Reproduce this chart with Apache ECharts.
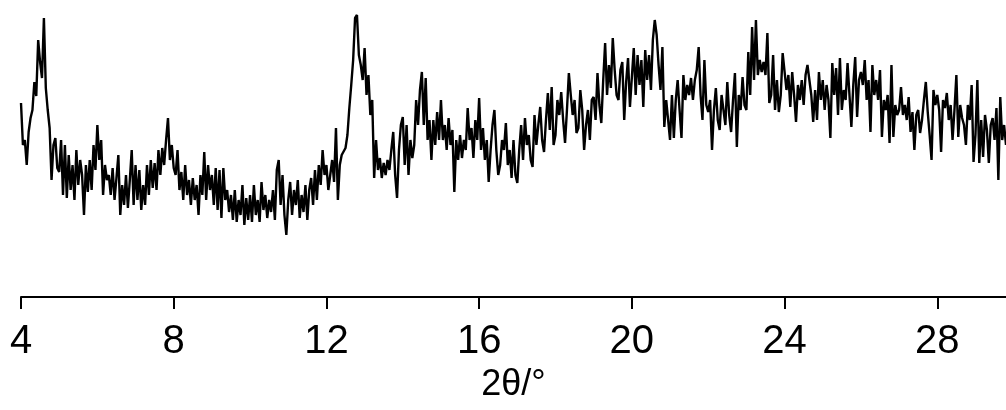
<!DOCTYPE html>
<html>
<head>
<meta charset="utf-8">
<script src="https://cdn.jsdelivr.net/npm/echarts@6/dist/echarts.min.js"></script>
<style>
  html, body { margin: 0; padding: 0; background: #fff; }
  #chart { width: 1006px; height: 410px; }
</style>
</head>
<body>
<div id="chart"></div>
<script>
// scan grid (2θ, degrees)
const scanStart = 4
const scanStep = 0.05
const xTickInterval = 4
const xMin = 4
const xMax = 29.8

// intensity (a.u.), one row per degree of 2θ
const intensity = [
  197, 155, 160, 135, 168, 182, 190, 218, 204, 260, 238, 222, 282, 212, 190, 172, 120, 155, 162, 132,
  128, 160, 105, 155, 102, 145, 110, 135, 100, 150, 115, 140, 125, 85, 135, 108, 140, 110, 155, 130,
  175, 140, 160, 105, 135, 120, 125, 105, 132, 100, 122, 145, 85, 115, 95, 125, 92, 120, 150, 95,
  135, 100, 130, 90, 115, 95, 135, 105, 140, 112, 137, 110, 150, 125, 152, 135, 160, 182, 140, 155,
  132, 125, 150, 110, 128, 100, 135, 105, 120, 95, 122, 100, 115, 85, 125, 105, 148, 100, 135, 110,
  125, 95, 132, 90, 130, 82, 132, 100, 110, 88, 105, 80, 110, 78, 100, 85, 115, 75, 102, 80,
  105, 78, 115, 85, 100, 78, 118, 90, 105, 82, 100, 88, 110, 80, 130, 140, 95, 125, 85, 65,
  100, 118, 85, 110, 95, 120, 82, 105, 88, 115, 80, 110, 122, 95, 130, 100, 135, 115, 150, 125,
  135, 110, 125, 140, 118, 172, 100, 135, 145, 145, 152, 165, 192, 215, 240, 282, 285, 245, 235, 220,
  252, 205, 225, 185, 200, 122, 160, 130, 142, 122, 137, 125, 140, 130, 150, 168, 125, 102, 150, 175,
  183, 135, 175, 125, 160, 142, 155, 200, 175, 210, 228, 175, 222, 160, 180, 140, 180, 155, 188, 160,
  200, 160, 175, 150, 182, 155, 170, 108, 160, 140, 165, 142, 160, 150, 192, 160, 172, 142, 180, 160,
  202, 150, 172, 140, 160, 118, 150, 175, 190, 150, 125, 135, 160, 150, 177, 135, 150, 122, 160, 125,
  117, 150, 175, 140, 182, 155, 165, 140, 133, 185, 155, 175, 193, 160, 148, 180, 207, 170, 213, 155,
  165, 200, 185, 208, 180, 157, 190, 227, 205, 185, 200, 167, 172, 210, 190, 150, 175, 190, 160, 200,
  203, 180, 227, 195, 177, 220, 257, 205, 235, 212, 262, 230, 205, 200, 230, 238, 180, 218, 242, 193,
  193, 252, 205, 245, 215, 240, 193, 250, 220, 245, 210, 260, 280, 265, 235, 210, 253, 173, 200, 180,
  160, 205, 162, 200, 220, 190, 162, 225, 200, 215, 205, 222, 200, 220, 230, 253, 205, 180, 240, 195,
  188, 200, 150, 190, 212, 180, 170, 205, 190, 175, 218, 185, 168, 200, 227, 153, 205, 190, 223, 195,
  190, 248, 205, 273, 220, 280, 225, 240, 228, 238, 225, 267, 197, 205, 245, 190, 220, 188, 205, 247,
  247, 210, 225, 193, 228, 205, 178, 215, 200, 220, 195, 225, 235, 237, 205, 178, 210, 180, 228, 200,
  220, 190, 215, 200, 162, 237, 205, 232, 185, 242, 190, 210, 200, 237, 205, 173, 215, 243, 183, 220,
  228, 215, 240, 200, 220, 168, 235, 205, 220, 200, 230, 163, 200, 190, 205, 157, 235, 163, 195, 185,
  190, 213, 185, 195, 180, 203, 168, 188, 150, 185, 190, 167, 180, 200, 218, 188, 165, 140, 210, 195,
  205, 190, 148, 200, 192, 207, 180, 195, 160, 190, 225, 163, 195, 182, 175, 155, 195, 180, 215, 138,
  165, 220, 137, 180, 143, 185, 170, 137, 175, 182, 160, 192, 120, 203, 160, 175, 155
]

const seriesData = intensity.map((v, i) => [+(scanStart + i * scanStep).toFixed(2), v])

const chart = echarts.init(document.getElementById('chart'), null, { renderer: 'canvas' })

const option = {
  backgroundColor: '#ffffff',
  animation: false,
  grid: {
    left: 21,
    right: 0,
    top: 0,
    bottom: 113
  },
  xAxis: {
    type: 'value',
    min: xMin,
    max: xMax,
    interval: xTickInterval,
    name: '2θ/°',
    nameLocation: 'middle',
    nameGap: 62,
    nameTextStyle: {
      color: '#000',
      fontSize: 36,
      fontFamily: 'Liberation Sans'
    },
    axisLine: {
      onZero: false,
      lineStyle: { color: '#000', width: 2 }
    },
    axisTick: {
      inside: false,
      length: 12,
      lineStyle: { color: '#000', width: 2 }
    },
    axisLabel: {
      color: '#000',
      fontSize: 40,
      fontFamily: 'Liberation Sans',
      margin: 25,
      showMaxLabel: false
    },
    splitLine: { show: false }
  },
  yAxis: {
    type: 'value',
    min: 3,
    max: 300,
    show: false
  },
  series: [
    {
      type: 'line',
      data: seriesData,
      showSymbol: false,
      symbol: 'none',
      sampling: false,
      lineStyle: { color: '#000', width: 2.4 }
    }
  ]
}

chart.setOption(option)
</script>
</body>
</html>
